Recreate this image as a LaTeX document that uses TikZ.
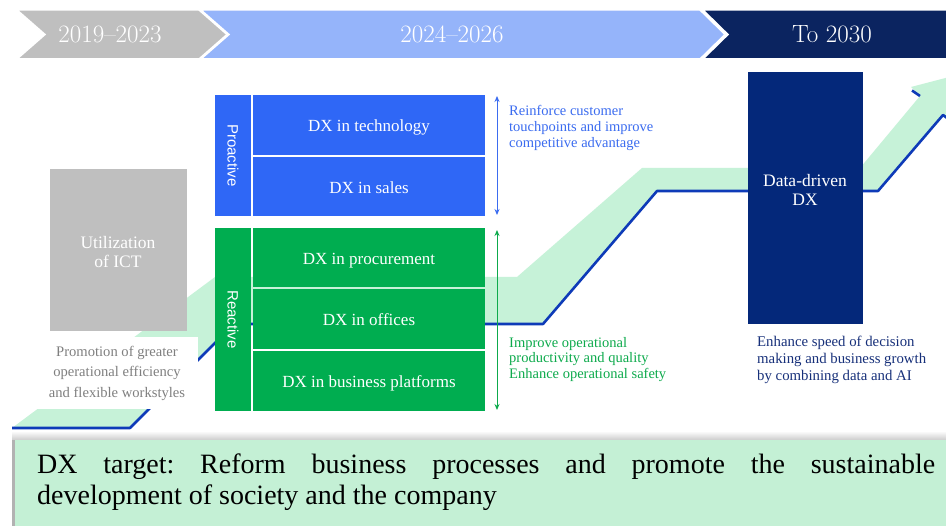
\documentclass[tikz,border=0pt]{standalone}
\usepackage{fontspec}
\newfontfamily\serifB{Liberation Serif}
\newfontfamily\sansB{Liberation Sans}
\usetikzlibrary{arrows.meta}
\frenchspacing

\definecolor{barGrey}{HTML}{BFBFBF}
\definecolor{barBlue}{HTML}{95B4FA}
\definecolor{barNavy}{HTML}{0B2460}
\definecolor{proBlue}{HTML}{2F67F6}
\definecolor{reGreen}{HTML}{00AD50}
\definecolor{bandGreen}{HTML}{C6F2D8}
\definecolor{lineBlue}{HTML}{0E3BB8}
\definecolor{dxNavy}{HTML}{04287A}
\definecolor{capGrey}{HTML}{7F7F7F}
\definecolor{txtBlue}{HTML}{3B6CF0}
\definecolor{txtGreen}{HTML}{0DAA4C}
\definecolor{txtNavy}{HTML}{17307A}
\definecolor{goalGreen}{HTML}{C4F0D5}

\tikzset{
  chev/.style={draw=white, line width=1.5pt},
  bartext/.style={text=white, inner sep=0pt, font=\fontsize{25}{28}\selectfont},
  cell/.style={anchor=north west, inner sep=0pt, outer sep=0pt, minimum width=232pt,
    text height=16pt, text depth=2pt,
    text=white, font=\serifB\fontsize{17}{19}\selectfont},
  sidebox/.style={anchor=north west, inner sep=0pt, outer sep=0pt, minimum width=36pt},
  sidetext/.style={text=white, inner sep=0pt, font=\sansB\fontsize{15}{17}\selectfont},
  notebox/.style={anchor=west, inner sep=0pt, align=left, font=\serifB\fontsize{14.5}{15.8}\selectfont},
  spanarrow/.style={line width=0.9pt, {Stealth[length=6pt,width=5pt]}-{Stealth[length=6pt,width=5pt]}},
  growline/.style={draw=lineBlue, line width=2.6pt, line join=round},
}

\begin{document}
\begin{tikzpicture}[x=1pt,y=-1pt]
\useasboundingbox (0,0) rectangle (946,526);
\fill[white] (0,0) rectangle (946,526);
\clip (0,0) rectangle (946,526);

% period bar
\draw[chev, fill=barGrey] (17,10) -- (199,10) -- (227,34.5) -- (199,59) -- (17,59) -- (45,34.5) -- cycle;
\draw[chev, fill=barBlue] (201,10) -- (700,10) -- (725,34.5) -- (700,59) -- (201,59) -- (229,34.5) -- cycle;
\draw[chev, fill=barNavy] (703,10) -- (960,10) -- (960,59) -- (703,59) -- (728,34.5) -- cycle;
\node[bartext] (p1) at (110,34.5) {2019\textendash2023};
\node[bartext] (p2) at (452,34.5) {2024\textendash2026};
\node[bartext] (p3) at (832,34.5) {To 2030};

% growth ribbon with its lower edge
\fill[bandGreen] (12,428) -- (215,277) -- (517,277) -- (642,168) -- (860,168) -- (920,96)
  -- (911,87) -- (957,75) -- (955,124) -- (943,115) -- (878,191) -- (657,191)
  -- (543,324) -- (234,324) -- (130,428) -- cycle;
\draw[growline] (12,428) -- (130,428) -- (234,324) -- (543,324) -- (657,191) -- (878,191) -- (943,115) -- (955,124);
\draw[growline] (912,90.5) -- (920,96);

% 2019-2023 stage
\node[anchor=north west, fill=barGrey, inner sep=0pt, outer sep=0pt,
  minimum width=137pt, minimum height=162pt] (ict) at (50,169) {};
\node[text=white, align=center, inner sep=0pt, font=\serifB\fontsize{17.5}{19.5}\selectfont]
  (icttext) at (118,252) {Utilization\\of ICT};
\fill[white] (20,337) rectangle (198,409);
\node[text=capGrey, align=center, inner sep=0pt, font=\serifB\fontsize{14.6}{20.5}\selectfont]
  (ictnote) at (117,373) {Promotion of greater\\operational efficiency\\and flexible workstyles};

% proactive group
\node[sidebox, fill=proBlue, minimum height=121pt] (prolab) at (215,95) {};
\node[sidetext, rotate=-90] (protext) at (prolab.center) {Proactive};
\node[cell, fill=proBlue, minimum height=60pt] (tech) at (253,95) {DX in technology};
\node[cell, fill=proBlue, minimum height=59pt] (sales) at (253,157) {DX in sales};

% reactive group
\node[sidebox, fill=reGreen, minimum height=183pt] (relab) at (215,228) {};
\node[sidetext, rotate=-90] (retext) at (relab.center) {Reactive};
\node[cell, fill=reGreen, minimum height=59pt] (proc) at (253,228) {DX in procurement};
\node[cell, fill=reGreen, minimum height=60pt] (office) at (253,289) {DX in offices};
\node[cell, fill=reGreen, minimum height=60pt] (platf) at (253,351) {DX in business platforms};

% spans and their notes
\coordinate (pa1) at (497,96);
\coordinate (pa2) at (497,215);
\coordinate (ra1) at (497,230);
\coordinate (ra2) at (497,410);
\draw[spanarrow, txtBlue] (pa1) -- (pa2);
\draw[spanarrow, txtGreen] (ra1) -- (ra2);
\node[notebox, text=txtBlue] (pronote) at (509,128)
  {Reinforce customer\\touchpoints and improve\\competitive advantage};
\node[notebox, text=txtGreen] (renote) at (509,359.5)
  {Improve operational\\productivity and quality\\Enhance operational safety};

% to 2030
\node[anchor=north west, fill=dxNavy, inner sep=0pt, outer sep=0pt,
  minimum width=115pt, minimum height=252pt] (dx) at (748,72) {};
\node[text=white, align=center, inner sep=0pt, font=\serifB\fontsize{17.5}{19.5}\selectfont]
  (dxtext) at (805,190) {Data-driven\\DX};
\node[notebox, text=txtNavy, font=\serifB\fontsize{14.8}{17}\selectfont] (dxnote) at (757,360)
  {Enhance speed of decision\\making and business growth\\by combining data and AI};

% target banner
\shade[top color=white, bottom color=gray!40] (12,431) rectangle (946,440);
\fill[gray!60] (12,440) rectangle (15,526);
\node[anchor=north west, fill=goalGreen, inner sep=0pt, outer sep=0pt,
  minimum width=931pt, minimum height=86pt] (goal) at (15,440) {};
\node[anchor=west, inner sep=0pt, text width=898pt, align=justify,
  font=\serifB\fontsize{28}{31}\selectfont] (goaltext) at (37,482)
  {\hyphenpenalty=10000 DX target: Reform business processes and promote the sustainable\linebreak
   development of society and the company};
\end{tikzpicture}
\end{document}
